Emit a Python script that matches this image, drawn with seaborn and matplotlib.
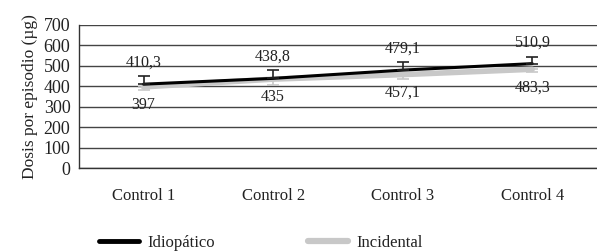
import pandas as pd
import seaborn as sns
import matplotlib.pyplot as plt
from matplotlib.lines import Line2D

# datos
controles = ['Control 1', 'Control 2', 'Control 3', 'Control 4']
idiopatico = [410.3, 438.8, 479.1, 510.9]
incidental = [397, 435, 457.1, 483.3]
err_idio = [40, 40, 41, 30]
err_inc = [15, 30, 19, 12]
etq_idio = ['410,3', '438,8', '479,1', '510,9']
etq_inc = ['397', '435', '457,1', '483,3']

df = pd.DataFrame({
    'control': controles * 2,
    'dosis': idiopatico + incidental,
    'grupo': ['Idiopático'] * 4 + ['Incidental'] * 4,
})

sns.set_style('white')
plt.rcParams['font.family'] = ['Liberation Serif', 'DejaVu Serif']

fig = plt.figure(figsize=(5.97, 2.52), dpi=100)
ax = fig.add_axes([0.132, 0.333, 0.868, 0.568])

colores = {'Idiopático': 'black', 'Incidental': '#c8c8c8'}
sns.lineplot(data=df[df.grupo == 'Incidental'], x='control', y='dosis', hue='grupo',
             palette=colores, linewidth=4, ax=ax, legend=False, zorder=3)
sns.lineplot(data=df[df.grupo == 'Idiopático'], x='control', y='dosis', hue='grupo',
             palette=colores, linewidth=2.2, ax=ax, legend=False, zorder=4)

x = list(range(len(controles)))
ax.errorbar(x, incidental, yerr=[err_inc, [0] * 4], fmt='none', ecolor='#c8c8c8',
            elinewidth=1.2, capsize=4, capthick=1.2, zorder=2)
ax.errorbar(x, idiopatico, yerr=[[0] * 4, err_idio], fmt='none', ecolor='#222222',
            elinewidth=1.2, capsize=4, capthick=1.2, zorder=5)

for i in x:
    ax.text(i, idiopatico[i] + 105, etq_idio[i], ha='center', va='center', fontsize=11.5,
            color='#222222')
    ax.text(i, incidental[i] - 88, etq_inc[i], ha='center', va='center', fontsize=11.5,
            color='#222222')

ax.set_ylim(0, 700)
ax.set_yticks(range(0, 701, 100))
ax.set_xlim(-0.5, 3.5)
ax.set_xticks(x)
ax.set_xticklabels(controles, fontsize=12, color='#222222')
ax.set_xticks([0.5, 1.5, 2.5], minor=True)
ax.tick_params(axis='x', which='major', length=0, pad=14)
ax.tick_params(axis='x', which='minor', length=5, width=1, direction='out', color='#333333')
ax.tick_params(axis='y', labelsize=13, labelcolor='#222222', length=4, width=1,
               direction='out', color='#333333', pad=2)
ax.yaxis.grid(True, color='#444444', linewidth=1)
ax.set_axisbelow(True)
ax.set_xlabel('')
ax.set_ylabel('Dosis por episodio (µg)', fontsize=12.5, color='#222222', labelpad=4)

for s in ['top', 'right']:
    ax.spines[s].set_visible(False)
for s in ['left', 'bottom']:
    ax.spines[s].set_color('#333333')
    ax.spines[s].set_linewidth(1)

handles = [Line2D([], [], color='black', linewidth=3.5),
           Line2D([], [], color='#c8c8c8', linewidth=4.5)]
fig.legend(handles, ['Idiopático', 'Incidental'], loc='center left', ncol=2,
           bbox_to_anchor=(0.14, 0.035), frameon=False, fontsize=12,
           handlelength=2.4, columnspacing=5.6, handletextpad=0.5,
           labelcolor='#222222')

fig.savefig('out.png', dpi=100)
